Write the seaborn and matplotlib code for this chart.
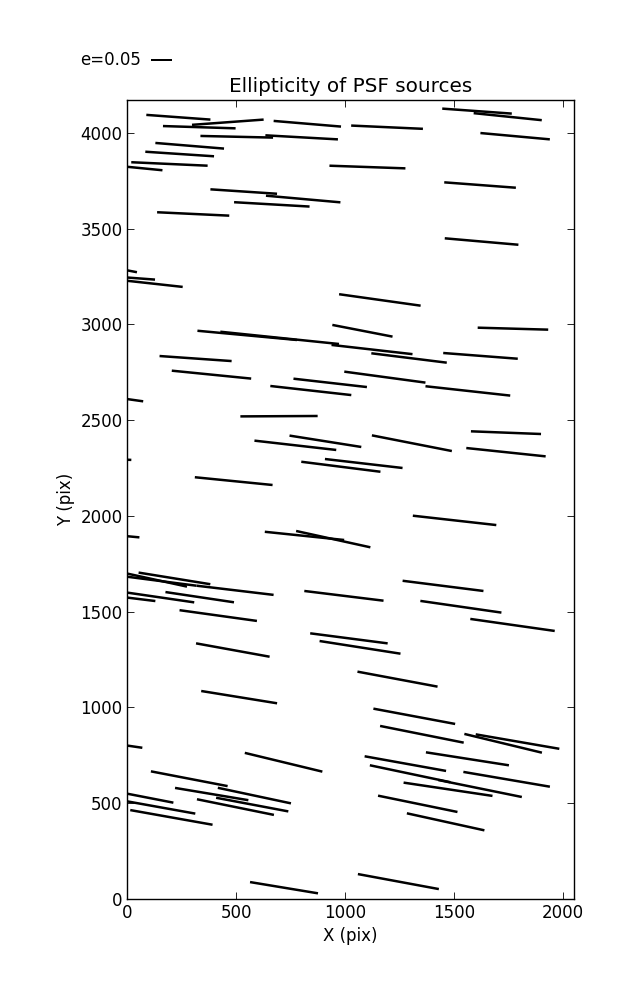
import numpy as np
import pandas as pd
import matplotlib
matplotlib.use("Agg")
import matplotlib.pyplot as plt
import seaborn as sns

# PSF source positions (pix), ellipticity and stick angle on screen (deg)
x_pix = [234, 330, 461, 826, 502, 800, 286, 240, 193, 64, 1102, 534, 807, 663, 302,
         6, 47, 111, 1159,
         1605, 1746, 1192, 1780, 1619, 1626,
         550, 699, 1079, 1123, 313, 386, 1182, 931, 842, 20, 696, 909, 771, -7, 1085, 980, 488,
         1770, 1621, 1293, 1563, 1738, 1306, 1738,
         11, 813, 945, 121, 216, 133, 494, 137, 48, 332, 417, 994, 484, 1017, 1068, 513,
         1502, 1449, 1531, 1768, 1240,
         18, 717, 284, 387, 583, 573, 496, 89, 140, 202, 719,
         1317, 1352, 1725, 1791, 1561, 1276, 1298, 1619, 1741, 1472, 1333, 1461, 1244]
y_pix = [4082, 4030, 4056, 4048, 3980, 3977, 3933, 3890, 3838, 3816, 3822, 3694, 3655, 3627, 3577,
         3281, 3241, 3214, 3128,
         4114, 4085, 4030, 3983, 3728, 3433,
         2943, 2930, 2967, 2869, 2822, 2738, 2725, 2695, 2655, 2607, 2521, 2390, 2369, 2294, 2274, 2257, 2182,
         2978, 2836, 2825, 2653, 2435, 2380, 2333,
         1893, 1896, 1879, 1669, 1674, 1663, 1612, 1577, 1567, 1576, 1480, 1583, 1300, 1361, 1314, 1054,
         1977, 1635, 1526, 1431, 1148,
         798, 714, 628, 548, 540, 493, 480, 530, 481, 426, 59,
         954, 860, 813, 822, 732, 707, 654, 577, 625, 573, 497, 403, 91]
ellip = [0.153, 0.173, 0.171, 0.161, 0.173, 0.173, 0.164, 0.164, 0.182, 0.101, 0.181, 0.159, 0.178, 0.180, 0.172,
         0.040, 0.083, 0.149, 0.196,
         0.166, 0.163, 0.171, 0.166, 0.171, 0.176,
         0.238, 0.284, 0.146, 0.194, 0.172, 0.190, 0.195, 0.176, 0.194, 0.055, 0.184, 0.173, 0.196, 0.026, 0.186, 0.190, 0.186,
         0.168, 0.178, 0.181, 0.203, 0.167, 0.194, 0.190,
         0.046, 0.190, 0.181, 0.162, 0.173, 0.192, 0.185, 0.178, 0.084, 0.165, 0.186, 0.190, 0.178, 0.186, 0.195, 0.183,
         0.200, 0.194, 0.195, 0.203, 0.194,
         0.053, 0.190, 0.186, 0.177, 0.178, 0.175, 0.187, 0.129, 0.181, 0.199, 0.164,
         0.198, 0.203, 0.190, 0.202, 0.200, 0.197, 0.196, 0.203, 0.209, 0.214, 0.193, 0.189, 0.196]
angle = [-4.2, -1.8, 4.2, -4.8, -1.3, -3.2, -4.7, -3.8, -2.6, -5.6, -2.0, -3.8, -5.1, -3.3, -2.7,
         -10.8, -4.3, -6.3, -8.0,
         -4.1, -5.9, -2.6, -5.2, -4.3, -5.0,
         -5.3, -5.9, -11.0, -6.5, -4.0, -5.7, -7.7, -6.5, -6.4, -8.0, 0.3, -9.0, -6.5, -2.6, -6.6, -7.2, -5.7,
         -1.6, -4.4, -7.1, -6.3, -2.2, -11.1, -6.0,
         -5.4, -5.9, -12.4, -12.3, -9.2, -7.4, -6.8, -8.3, -7.0, -8.5, -7.9, -7.0, -10.3, -7.4, -8.9, -9.2,
         -6.4, -7.2, -8.2, -8.1, -10.6,
         -8.3, -13.6, -10.9, -9.5, -12.0, -10.7, -11.5, -11.0, -10.2, -10.1, -9.4,
         -10.6, -11.3, -13.6, -9.8, -8.9, -10.2, -11.9, -11.5, -9.7, -8.5, -11.6, -12.4, -10.5]

df = pd.DataFrame({"x": x_pix, "y": y_pix, "e": ellip, "theta": angle})
df["u"] = df["e"] * np.cos(np.radians(df["theta"]))
df["v"] = df["e"] * np.sin(np.radians(df["theta"]))

sns.set_style("ticks", {"xtick.direction": "in", "ytick.direction": "in"})
plt.rcParams.update({
    "font.family": ["DejaVu Sans"],
    "font.size": 12,
    "text.color": "black",
    "axes.labelcolor": "black",
    "axes.edgecolor": "black",
    "axes.linewidth": 1.0,
    "xtick.color": "black",
    "ytick.color": "black",
    "xtick.top": True,
    "ytick.right": True,
    "xtick.major.size": 5,
    "ytick.major.size": 5,
    "xtick.major.width": 0.6,
    "ytick.major.width": 0.6,
    "xtick.labelsize": 12,
    "ytick.labelsize": 12,
})

fig, ax = plt.subplots(figsize=(6.37, 10), dpi=100)
fig.subplots_adjust(left=0.2, right=0.901, bottom=0.101, top=0.9)

# headless sticks, 0.05 ellipticity = 0.21 in
q = ax.quiver(df["x"], df["y"], df["u"], df["v"], angles="uv", pivot="middle",
              scale_units="inches", scale=0.05 / 0.21, units="inches", width=0.025,
              headwidth=0, headlength=0, headaxislength=0, color="black")
ax.quiverkey(q, 0.237, 0.94, 0.05, "e=0.05", labelpos="W", coordinates="figure",
             labelsep=0.1, fontproperties={"size": 12})

ax.set_xlim(0, 2050)
ax.set_ylim(0, 4172)
ax.set_xticks(np.arange(0, 2001, 500))
ax.set_yticks(np.arange(0, 4001, 500))
ax.set_title("Ellipticity of PSF sources", fontsize=14.4)
ax.set_xlabel("X (pix)")
ax.set_ylabel("Y (pix)")

plt.savefig("out.png", dpi=100)
